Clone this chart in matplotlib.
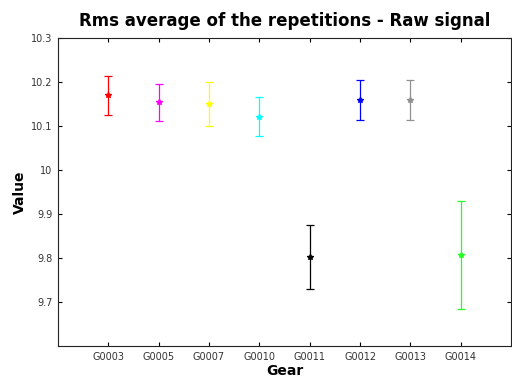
import matplotlib
matplotlib.use("Agg")
import matplotlib.pyplot as plt
import numpy as np

gears = ['G0003', 'G0005', 'G0007', 'G0010', 'G0011', 'G0012', 'G0013', 'G0014']
means = [10.170, 10.154, 10.150, 10.121, 9.802, 10.159, 10.159, 9.807]
errs = [0.044, 0.042, 0.049, 0.044, 0.073, 0.045, 0.046, 0.122]
colors = ['#ff0000', '#ff00ff', '#ffff00', '#00ffff', '#000000', '#0000ff', '#909090', '#22ff22']

fig = plt.figure(figsize=(5.12, 3.77), dpi=100)
ax = fig.add_axes([0.1133, 0.0822, 0.885, 0.817])

x = np.arange(1, len(gears) + 1)
for xi, m, e, c in zip(x, means, errs, colors):
    ax.errorbar(xi, m, yerr=e, fmt='*', color=c, ecolor=c, markersize=4,
                elinewidth=0.9, capsize=3, capthick=0.9)

ax.set_xlim(0, 9)
ax.set_ylim(9.6, 10.3)
ax.set_xticks(x)
ax.set_xticklabels(gears)
ax.set_yticks([9.7, 9.8, 9.9, 10.0, 10.1, 10.2, 10.3])
ax.set_yticklabels(['9.7', '9.8', '9.9', '10', '10.1', '10.2', '10.3'])
ax.tick_params(direction='in', top=True, right=True, labelsize=7, length=3,
               width=0.8, labelcolor='#333333', pad=4)
for s in ax.spines.values():
    s.set_linewidth(0.8)
    s.set_color('#222222')

ax.set_title('Rms average of the repetitions - Raw signal', fontsize=12,
             fontweight='bold', pad=9)
ax.set_xlabel('Gear', fontsize=10, fontweight='bold', labelpad=2)
ax.set_ylabel('Value', fontsize=10, fontweight='bold', labelpad=3)

fig.savefig('out.png', dpi=100)
